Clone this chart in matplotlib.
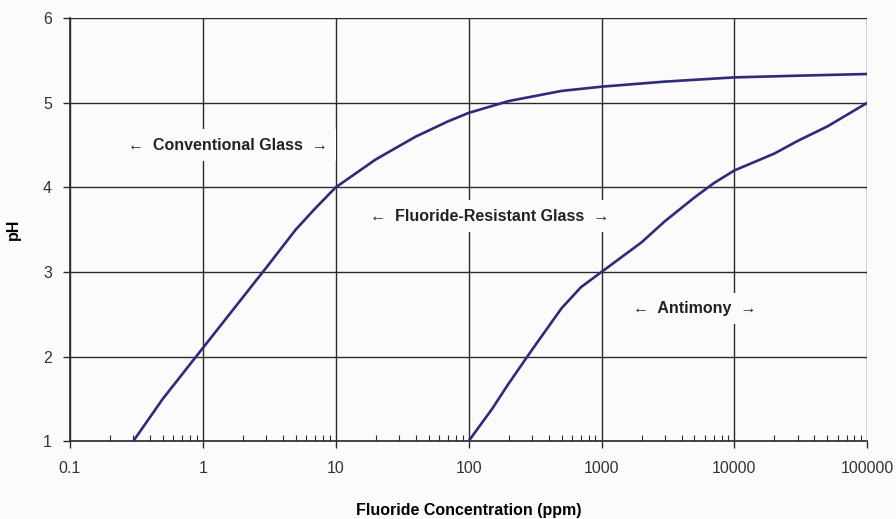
import matplotlib
matplotlib.use('Agg')
import matplotlib.pyplot as plt
import numpy as np
from matplotlib.ticker import LogLocator, NullFormatter

# conventional glass electrode response
glass_ppm = [0.3, 0.5, 1, 2, 3, 5, 7, 10, 20, 40, 70, 100, 200, 500, 1000, 3000, 10000, 30000, 100000]
glass_ph = [1.0, 1.5, 2.1, 2.7, 3.05, 3.5, 3.75, 4.0, 4.33, 4.6, 4.78, 4.88, 5.02, 5.14, 5.19, 5.25, 5.3, 5.32, 5.34]

# antimony electrode response
sb_ppm = [100, 150, 200, 300, 500, 700, 1000, 2000, 3000, 5000, 7000, 10000, 20000, 30000, 50000, 100000]
sb_ph = [1.0, 1.38, 1.68, 2.08, 2.57, 2.82, 3.0, 3.35, 3.6, 3.88, 4.05, 4.2, 4.4, 4.55, 4.72, 5.0]

x_ticks = [0.1, 1, 10, 100, 1000, 10000, 100000]
x_labels = ['0.1', '1', '10', '100', '1000', '10000', '100000']
y_ticks = [1, 2, 3, 4, 5, 6]

plt.rcParams['font.family'] = ['Liberation Sans', 'DejaVu Sans']

fig = plt.figure(figsize=(8.96, 5.19), dpi=100)
fig.patch.set_facecolor('#fbfbfb')
ax = fig.add_axes([0.078, 0.150, 0.890, 0.815])
ax.set_facecolor('#fbfbfb')

line_color = '#2d2b7a'
ax.plot(glass_ppm, glass_ph, color=line_color, lw=1.9, zorder=3)
ax.plot(sb_ppm, sb_ph, color=line_color, lw=1.9, zorder=3)

ax.set_xscale('log')
ax.set_xlim(0.1, 100000)
ax.set_ylim(1, 6)
ax.set_xticks(x_ticks)
ax.set_xticklabels(x_labels)
ax.xaxis.set_minor_locator(LogLocator(base=10, subs=np.arange(2, 10)))
ax.xaxis.set_minor_formatter(NullFormatter())
ax.set_yticks(y_ticks)

ax.grid(True, which='major', color='#2a2a2a', lw=1.0, zorder=1)
for s in ['top', 'right']:
    ax.spines[s].set_visible(False)
for s in ['left', 'bottom']:
    ax.spines[s].set_color('#2a2a2a')
    ax.spines[s].set_linewidth(1.2)

ax.tick_params(axis='both', which='major', direction='out', length=5, width=1.0,
               color='#2a2a2a', labelsize=11.5, labelcolor='#333333')
ax.tick_params(axis='x', which='major', pad=9)
ax.tick_params(axis='y', which='major', pad=8)
ax.tick_params(axis='x', which='minor', direction='in', length=4, width=0.8, color='#2a2a2a')

ax.set_xlabel('Fluoride Concentration (ppm)', fontsize=11.5, fontweight='bold', labelpad=20)
ax.set_ylabel('pH', fontsize=11.5, fontweight='bold', labelpad=16)

box = dict(facecolor='#fbfbfb', edgecolor='none', pad=6)
ax.text(1.55, 4.5, '\u2190  Conventional Glass  \u2192', ha='center', va='center',
        fontsize=11.5, fontweight='bold', color='#222222', bbox=box, zorder=2)
ax.text(145, 3.66, '\u2190  Fluoride-Resistant Glass  \u2192', ha='center', va='center',
        fontsize=11.5, fontweight='bold', color='#222222', bbox=box, zorder=2)
ax.text(5000, 2.57, '\u2190  Antimony  \u2192', ha='center', va='center',
        fontsize=11.5, fontweight='bold', color='#222222', bbox=box, zorder=2)

fig.savefig('out.png', dpi=100, facecolor=fig.get_facecolor())
